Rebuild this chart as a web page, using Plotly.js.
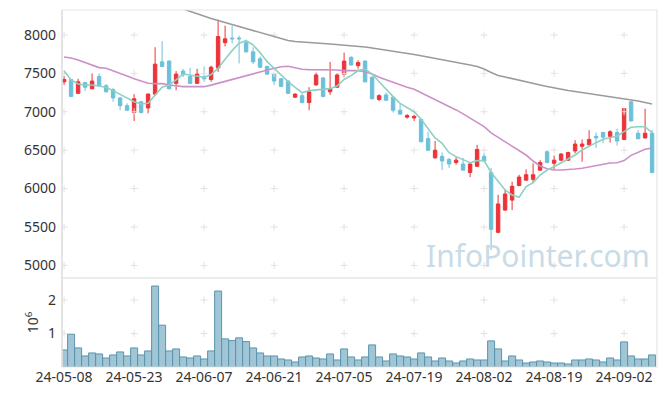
<!DOCTYPE html>
<html><head><meta charset="utf-8">
<script src="https://cdn.plot.ly/plotly-3.0.1.min.js"></script>
<style>html,body{margin:0;padding:0;background:#fff}#chart{width:665px;height:396px}</style>
</head><body><div id="chart"></div>
<script>
const dates = ["24-05-08","24-05-09","24-05-10","24-05-13","24-05-14","24-05-16","24-05-17","24-05-20","24-05-21","24-05-22",
"24-05-23","24-05-24","24-05-27","24-05-28","24-05-29","24-05-30","24-05-31","24-06-03","24-06-04","24-06-05",
"24-06-07","24-06-10","24-06-11","24-06-12","24-06-13","24-06-14","24-06-17","24-06-18","24-06-19","24-06-20",
"24-06-21","24-06-24","24-06-25","24-06-26","24-06-27","24-06-28","24-07-01","24-07-02","24-07-03","24-07-04",
"24-07-05","24-07-08","24-07-09","24-07-10","24-07-11","24-07-12","24-07-15","24-07-16","24-07-17","24-07-18",
"24-07-19","24-07-22","24-07-23","24-07-24","24-07-25","24-07-26","24-07-29","24-07-30","24-07-31","24-08-01",
"24-08-02","24-08-05","24-08-06","24-08-07","24-08-08","24-08-09","24-08-12","24-08-13","24-08-14","24-08-16",
"24-08-19","24-08-20","24-08-21","24-08-22","24-08-23","24-08-26","24-08-27","24-08-28","24-08-29","24-08-30",
"24-09-02","24-09-03","24-09-04","24-09-05","24-09-06"];

const openP  = [7390,7420,7240,7380,7300,7460,7340,7290,7180,7080, 6990,7130,7050,7230,7650,7660,7370,7530,7460,7370,
7460,7420,7570,7900,7960,7960,7900,7780,7690,7590, 7490,7430,7400,7190,7210,7120,7350,7440,7260,7320,
7490,7710,7600,7660,7450,7160,7220,7190,7020,6930, 6920,6900,6650,6400,6420,6380,6340,6320,6210,6290,
6420,6210,5430,5720,5850,6040,6110,6120,6240,6480, 6330,6370,6370,6490,6550,6570,6680,6730,6680,6730,
6640,7130,6720,6660,6720];
const highP  = [7470,7430,7430,7390,7500,7500,7360,7310,7190,7110, 7230,7140,7240,7840,7920,7670,7530,7560,7570,7560,
7590,7600,8200,8120,8120,7990,7940,7840,7720,7600, 7500,7440,7410,7240,7240,7320,7510,7450,7650,7500,
7770,7720,7670,7670,7460,7230,7250,7200,7100,6970, 6960,6910,6740,6620,6470,6400,6410,6400,6330,6570,
6460,6270,5920,5990,6090,6180,6250,6330,6370,6500, 6430,6460,6480,6630,6640,6760,6730,6740,6760,6780,
7050,7140,6760,7040,6760];
const lowP   = [7350,7190,7230,7270,7290,7330,7250,7130,7020,7010, 6880,6980,6980,7210,7580,7290,7280,7450,7360,7360,
7390,7390,7520,7850,7890,7630,7770,7620,7570,7480, 7350,7320,7230,7180,7110,7020,7340,7190,7220,7310,
7450,7600,7560,7380,7160,7140,7140,6990,6960,6910, 6880,6600,6490,6390,6240,6270,6310,6240,6150,6280,
6350,5200,5420,5710,5720,6030,6100,6070,6230,6330, 6250,6360,6360,6460,6350,6560,6530,6590,6600,6560,
6630,6880,6640,6650,6200];
const closeP = [7420,7200,7390,7320,7400,7340,7260,7180,7080,7020, 7170,6990,7230,7620,7590,7300,7490,7480,7370,7490,
7430,7580,7980,7950,7950,7950,7780,7650,7580,7490, 7400,7330,7240,7230,7120,7260,7480,7200,7300,7480,
7660,7610,7640,7390,7170,7210,7150,7020,6970,6950, 6940,6610,6500,6500,6360,6320,6370,6240,6320,6510,
6360,5470,5800,5930,6030,6150,6180,6180,6340,6340, 6370,6450,6470,6580,6580,6640,6660,6670,6740,6620,
7040,6880,6650,6720,6210];

const ma5 = [7531,7414,7362,7349,7349,7336,7319,7275,7228,7176, 7132,7102,7110,7219,7319,7349,7414,7492,7479,7457,
7449,7485,7566,7683,7796,7892,7926,7870,7770,7653, 7566,7479,7392,7319,7249,7275,7284,7293,7301,7336,
7420,7470,7536,7557,7492,7392,7293,7197,7110,7058, 7001,6902,6785,6660,6590,6468,6416,6372,6337,6364,
6364,6210,6090,5982,5917,5887,6025,6077,6177,6242, 6285,6337,6381,6437,6503,6555,6598,6642,6668,6685,
6741,6798,6806,6806,6728];
const ma20 = [7714,7701,7675,7640,7605,7575,7566,7536,7501,7466, 7431,7397,7371,7366,7366,7349,7336,7327,7327,7327,
7327,7347,7371,7392,7414,7440,7466,7492,7518,7544, 7566,7587,7592,7575,7553,7549,7549,7544,7544,7544,
7536,7536,7536,7522,7492,7449,7414,7379,7349,7319, 7293,7249,7197,7154,7110,7067,7024,6972,6915,6863,
6806,6725,6668,6603,6546,6494,6437,6359,6294,6259, 6242,6242,6246,6255,6264,6281,6298,6316,6333,6337,
6364,6433,6477,6512,6529];
const ma60 = [null,null,null,null,null,null,null,null,null,null, null,null,null,null,null,8400,8368,8336,8306,8273,
8247,8215,8189,8163,8137,8104,8085,8061,8033,8007, 7980,7952,7928,7915,7906,7900,7893,7888,7882,7875,
7870,7863,7850,7844,7831,7818,7805,7792,7779,7762, 7746,7730,7714,7694,7679,7662,7643,7627,7609,7590,
7557,7512,7473,7453,7434,7414,7391,7369,7349,7329, 7310,7297,7276,7264,7251,7238,7224,7212,7199,7186,
7173,7160,7141,7121,7102];

const volumeMillions = [0.51,0.98,0.57,0.33,0.42,0.39,0.27,0.36,0.45,0.33,
0.57,0.36,0.48,2.42,1.25,0.48,0.54,0.30,0.27,0.33, 0.24,0.48,2.27,0.84,0.79,0.87,0.76,0.57,0.42,0.33,
0.33,0.24,0.21,0.15,0.30,0.33,0.27,0.24,0.39,0.21, 0.54,0.30,0.21,0.30,0.66,0.30,0.18,0.39,0.33,0.30,
0.24,0.42,0.30,0.18,0.27,0.18,0.12,0.18,0.24,0.21, 0.21,0.78,0.54,0.18,0.33,0.21,0.12,0.15,0.18,0.15,
0.12,0.12,0.09,0.21,0.21,0.24,0.21,0.15,0.27,0.21, 0.75,0.33,0.24,0.24,0.36];

const xTicks = ["24-05-08","24-05-23","24-06-07","24-06-21","24-07-05","24-07-19","24-08-02","24-08-19","24-09-02"];
const priceTicks = [5000,5500,6000,6500,7000,7500,8000];
const volTicks = [1,2];

// grid crosses at tick intersections
const gx=[],gy=[],vx=[],vy=[];
xTicks.forEach(t=>{priceTicks.forEach(p=>{gx.push(t);gy.push(p);}); volTicks.forEach(v=>{vx.push(t);vy.push(v);});});
const crossMarker = {symbol:'cross-thin',size:5,color:'#e2e2e2',line:{color:'#e2e2e2',width:1}};

const traces = [
 {type:'scatter',mode:'markers',x:gx,y:gy,xaxis:'x',yaxis:'y',marker:crossMarker,hoverinfo:'skip',showlegend:false},
 {type:'scatter',mode:'markers',x:vx,y:vy,xaxis:'x',yaxis:'y2',marker:crossMarker,hoverinfo:'skip',showlegend:false},
 {type:'scatter',mode:'lines',x:dates,y:ma60,xaxis:'x',yaxis:'y',line:{color:'#9b9b9b',width:1.6},hoverinfo:'skip',showlegend:false},
 {type:'scatter',mode:'lines',x:dates,y:ma20,xaxis:'x',yaxis:'y',line:{color:'#cc90c8',width:1.6},hoverinfo:'skip',showlegend:false},
 {type:'scatter',mode:'lines',x:dates,y:ma5,xaxis:'x',yaxis:'y',line:{color:'#8fd0c4',width:1.6},hoverinfo:'skip',showlegend:false},
 {type:'candlestick',x:dates,open:openP,high:highP,low:lowP,close:closeP,xaxis:'x',yaxis:'y',
  increasing:{line:{color:'#ec3338',width:1},fillcolor:'#ec3338'},
  decreasing:{line:{color:'#6cc0d9',width:1},fillcolor:'#6cc0d9'},
  whiskerwidth:0,hoverinfo:'skip',showlegend:false},
 {type:'bar',x:dates,y:volumeMillions,xaxis:'x',yaxis:'y2',width:1,
  marker:{color:'rgba(136,182,203,0.8)',line:{color:'#5b95ae',width:1}},hoverinfo:'skip',showlegend:false}
];

const fontTick = {family:'"Noto Sans", "DejaVu Sans", sans-serif',size:14,color:'#333'};
const layout = {
 width:665,height:396,margin:{l:62,r:8,t:10,b:29},
 paper_bgcolor:'#fff',plot_bgcolor:'#fff',showlegend:false,
 xaxis:{type:'category',categoryorder:'array',categoryarray:dates,anchor:'y2',tickvals:xTicks,ticktext:xTicks,
   showgrid:false,zeroline:false,showline:false,ticks:'',tickfont:fontTick,rangeslider:{visible:false},range:[-0.3,84.7]},
 yaxis:{domain:[0.2493,1],range:[4836,8325],tickvals:priceTicks,showgrid:false,zeroline:false,
   showline:false,ticks:'',tickfont:fontTick,ticklabelstandoff:5},
 yaxis2:{domain:[0,0.2493],range:[0,2.66],tickvals:volTicks,showgrid:false,zeroline:false,
   showline:false,ticks:'',tickfont:fontTick,ticklabelstandoff:5,
   title:{text:'10<sup>6</sup>',font:fontTick,standoff:6}},
 bargap:0,
 shapes:[
  {type:'rect',xref:'x domain',yref:'y domain',x0:0,x1:1,y0:0,y1:1,line:{color:'#e6e6e6',width:1.2}},
  {type:'rect',xref:'x domain',yref:'y2 domain',x0:0,x1:1,y0:0,y1:1,line:{color:'#e6e6e6',width:1.2}},
  {type:'line',xref:'x domain',yref:'paper',x0:0,x1:0,y0:0,y1:1,line:{color:'#dcdcdc',width:1.2}}
 ],
 annotations:[{text:'InfoPointer.com',xref:'paper',yref:'paper',x:0.8,y:0.311,xanchor:'center',yanchor:'middle',
   showarrow:false,font:{family:'"Noto Sans", sans-serif',size:30,color:'#c8dbe6'}}]
};
Plotly.newPlot('chart',traces,layout,{staticPlot:true,displayModeBar:false});
</script></body></html>
